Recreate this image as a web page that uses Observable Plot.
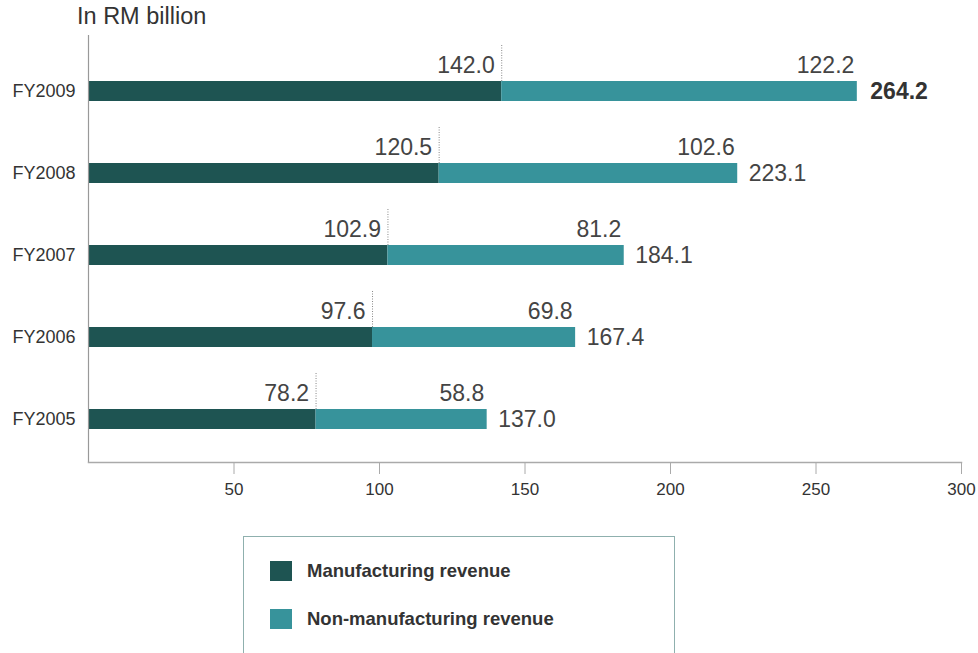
<!DOCTYPE html>
<html>
<head>
<meta charset="utf-8">
<script src="https://cdn.jsdelivr.net/npm/d3@7"></script>
<script src="https://cdn.jsdelivr.net/npm/@observablehq/plot@0.6"></script>
<style>
  html, body { margin: 0; padding: 0; background: #fff; }
  body { width: 978px; height: 653px; overflow: hidden; font-family: "Liberation Sans", Arial, Helvetica, sans-serif; }
  #title { height: 35px; padding-left: 77px; font-size: 23.5px; line-height: 33px; color: #333; box-sizing: border-box; }
  #legend { margin-left: 243px; margin-top: 26px; width: 432px; height: 140px; box-sizing: border-box;
            border: 1.5px solid #8fb0ae; position: relative; }
  .item { position: absolute; left: 26px; display: flex; align-items: center; font-weight: bold; font-size: 18.5px; color: #333; }
  .sw { width: 22px; height: 20px; margin-right: 15px; }
</style>
</head>
<body>
<div id="title">In RM billion</div>
<div id="chart"></div>
<div id="legend"></div>
<script>
const years = ["FY2009", "FY2008", "FY2007", "FY2006", "FY2005"];
const manufacturing = [142.0, 120.5, 102.9, 97.6, 78.2];
const nonManufacturing = [122.2, 102.6, 81.2, 69.8, 58.8];
const totals = [264.2, 223.1, 184.1, 167.4, 137.0];
const xTicks = [50, 100, 150, 200, 250, 300];
const seriesNames = ["Manufacturing revenue", "Non-manufacturing revenue"];
const seriesColors = ["#1e5452", "#37939b"];

const rows = years.map((y, i) => ({
  year: y,
  man: manufacturing[i],
  non: nonManufacturing[i],
  total: totals[i],
  bold: i === 0
}));

const chart = Plot.plot({
  width: 978,
  height: 475,
  marginLeft: 88,
  marginRight: 17,
  marginTop: 13,
  marginBottom: 48,
  style: { fontFamily: "Liberation Sans, Arial, Helvetica, sans-serif", color: "#333", background: "#fff" },
  x: { domain: [0, 300], label: null },
  y: { domain: years, paddingInner: 0.76, paddingOuter: 0.38, label: null },
  marks: [
    Plot.barX(rows, { y: "year", x1: 0, x2: "man", fill: seriesColors[0] }),
    Plot.barX(rows, { y: "year", x1: "man", x2: "total", fill: seriesColors[1] }),
    Plot.tickX(rows, { y: "year", x: "man", stroke: "#888", strokeWidth: 1, strokeDasharray: "1,1.5", insetTop: -36, insetBottom: 20 }),
    Plot.text(rows, { y: "year", x: "man", text: d => d.man.toFixed(1), textAnchor: "end", dx: -7, dy: -26, fontSize: 23, fill: "#444" }),
    Plot.text(rows, { y: "year", x: "total", text: d => d.non.toFixed(1), textAnchor: "end", dx: -3, dy: -26, fontSize: 23, fill: "#444" }),
    Plot.text(rows.filter(d => !d.bold), { y: "year", x: "total", text: d => d.total.toFixed(1), textAnchor: "start", dx: 11, fontSize: 23, fill: "#444" }),
    Plot.text(rows.filter(d => d.bold), { y: "year", x: "total", text: d => d.total.toFixed(1), textAnchor: "start", dx: 13, fontSize: 23, fill: "#333", fontWeight: "bold" }),
    Plot.ruleX([0], { stroke: "#999", strokeWidth: 1.2, insetTop: -13 }),
    Plot.frame({ anchor: "bottom", stroke: "#aaa", strokeWidth: 1.5 }),
    Plot.axisX({ ticks: xTicks, tickSize: 12, tickPadding: 8, fontSize: 17, stroke: "#aaa", label: null, fill: "#333" }),
    Plot.axisY({ tickSize: 0, tickPadding: 13, fontSize: 18, label: null, fill: "#333" })
  ]
});
document.getElementById("chart").appendChild(chart);

const legend = document.getElementById("legend");
seriesNames.forEach((name, i) => {
  const it = document.createElement("div");
  it.className = "item";
  it.style.top = (23 + i * 48) + "px";
  const sw = document.createElement("div");
  sw.className = "sw";
  sw.style.background = seriesColors[i];
  const t = document.createElement("span");
  t.textContent = name;
  it.appendChild(sw);
  it.appendChild(t);
  legend.appendChild(it);
});
</script>
</body>
</html>
